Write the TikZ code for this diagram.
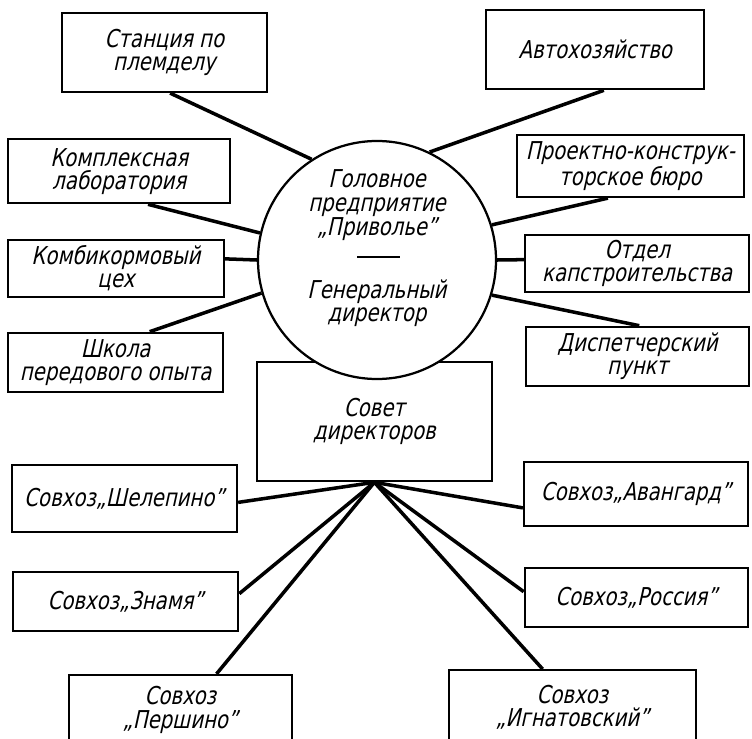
\documentclass[tikz,border=0pt]{standalone}
\usepackage{fontspec}
\newfontfamily\gostfont{DejaVu Sans}[FakeSlant=0.22,FakeStretch=0.8]
\usepackage{tikz}
\usetikzlibrary{calc}
\usetikzlibrary{positioning}

\begin{document}
\begin{tikzpicture}[
    unit/.style={draw, line width=1.6pt, fill=white, align=center, inner sep=0pt},
    link/.style={line width=2.5pt},
    every node/.style={font=\gostfont\fontsize{17.5pt}{16.5pt}\selectfont}
  ]
    \useasboundingbox (0,0) rectangle (18.8,-18.45);
    \clip (0,0) rectangle (18.8,-18.45);

    % left column
    \node[unit, minimum width=5.13cm, minimum height=1.98cm] at (4.11,-1.31) (stancia) {Станция по\\племделу};
    \node[unit, minimum width=5.55cm, minimum height=1.6cm] at (2.98,-4.28) (kompl) {Комплексная\\лаборатория};
    \node[unit, minimum width=5.4cm, minimum height=1.43cm] at (2.9,-6.71) (kombi) {Комбикормовый\\цех};
    \node[unit, minimum width=5.38cm, minimum height=1.48cm] at (2.89,-9.06) (shkola) {Школа\\передового опыта};

    % right column
    \node[unit, minimum width=5.45cm, minimum height=1.98cm] at (14.88,-1.24) (avto) {Автохозяйство};
    \node[unit, minimum width=5.68cm, minimum height=1.55cm] at (15.76,-4.15) (proekt) {Проектно-конструк-\\торское бюро};
    \node[unit, minimum width=5.6cm, minimum height=1.43cm] at (15.93,-6.59) (otdel) {Отдел\\капстроительства};
    \node[unit, minimum width=5.58cm, minimum height=1.48cm] at (15.94,-8.91) (disp) {Диспетчерский\\пункт};

    % centre
    \node[unit, minimum width=5.88cm, minimum height=2.98cm] at (9.36,-10.54) (sovet) {Совет\\директоров};
    \node[unit, circle, minimum size=5.95cm] at (9.425,-6.5) (head) {};
    \node[align=center, font=\gostfont\fontsize{17.5pt}{17.2pt}\selectfont] at (9.425,-5.12) (headup) {Головное\\предприятие\\„Приволье”};
    \node[align=center] at (9.425,-7.58) (headdn) {Генеральный\\директор};
    \draw[line width=1pt] (8.93,-6.43) -- (10.0,-6.43);

    % sovkhozes
    \node[unit, minimum width=5.63cm, minimum height=1.68cm] at (3.11,-12.46) (shelep) {Совхоз„Шелепино”};
    \node[unit, minimum width=5.6cm, minimum height=1.6cm] at (15.9,-12.35) (avang) {Совхоз„Авангард”};
    \node[unit, minimum width=5.63cm, minimum height=1.48cm] at (3.14,-15.04) (znamya) {Совхоз„Знамя”};
    \node[unit, minimum width=5.58cm, minimum height=1.48cm] at (15.91,-14.94) (rossia) {Совхоз„Россия”};
    \node[unit, minimum width=5.58cm, minimum height=1.75cm] at (4.51,-17.75) (pershino) {Совхоз\\„Першино”};
    \node[unit, minimum width=6.18cm, minimum height=1.85cm] at (14.31,-17.68) (ignat) {Совхоз\\„Игнатовский”};

    \draw[link] (stancia.-82) -- (head.123);
    \draw[link] (kompl.-49) -- (head.167);
    \draw[link] (kombi.5) -- (head.180);
    \draw[link] (shkola.42) -- (head.196);
    \draw[link] (avto.-78) -- (head.64);
    \draw[link] (proekt.-125) -- (head.17);
    \draw[link] (otdel.178) -- (head.0);
    \draw[link] (disp.87) -- (head.-17);

    \draw[link] (shelep.-2) -- (sovet.south);
    \draw[link] (avang.187) -- (sovet.south);
    \draw[link] (znamya.4) -- (sovet.south);
    \draw[link] (rossia.177) -- (sovet.south);
    \draw[link] (pershino.45) -- (sovet.south);
    \draw[link] (ignat.128) -- (sovet.south);
\end{tikzpicture}
\end{document}
